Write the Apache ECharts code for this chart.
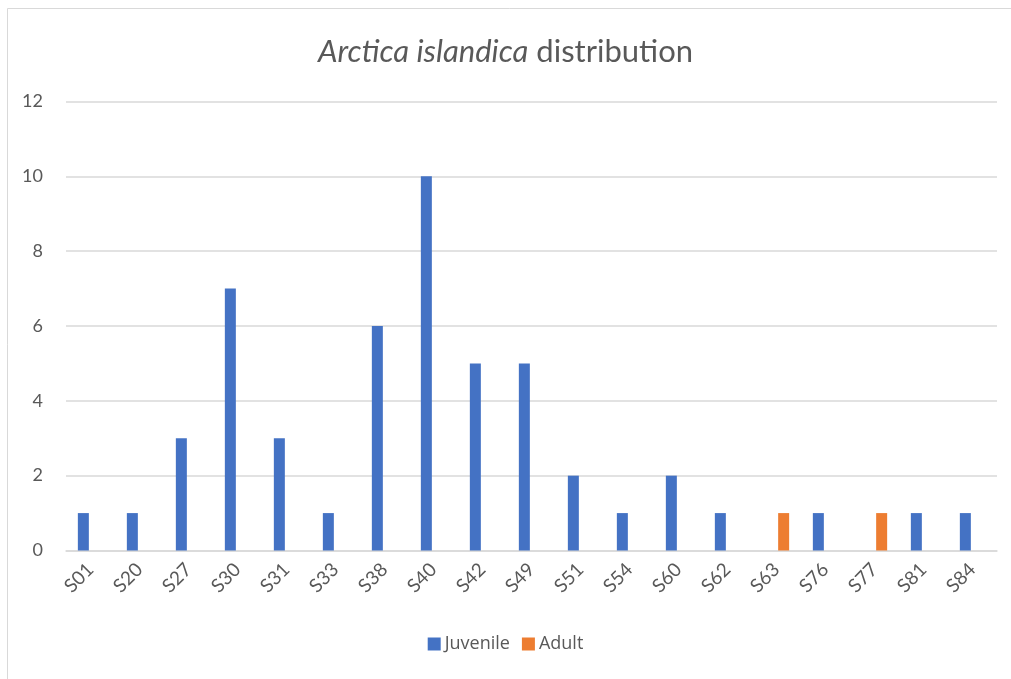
<!DOCTYPE html>
<html>
<head>
<meta charset="utf-8">
<script src="https://cdn.jsdelivr.net/npm/echarts@6/dist/echarts.min.js"></script>
<style>
  html, body { margin: 0; padding: 0; background: #ffffff; }
  #chart { width: 1011px; height: 679px; }
</style>
</head>
<body>
<div id="chart"></div>
<script>
// Sampling stations
const stations = ['S01', 'S20', 'S27', 'S30', 'S31', 'S33', 'S38', 'S40', 'S42', 'S49',
                  'S51', 'S54', 'S60', 'S62', 'S63', 'S76', 'S77', 'S81', 'S84'];
// Counts per station
const juvenile = [1, 1, 3, 7, 3, 1, 6, 10, 5, 5, 2, 1, 2, 1, 0, 1, 0, 1, 1];
const adult    = [0, 0, 0, 0, 0, 0, 0, 0, 0, 0, 0, 0, 0, 0, 1, 0, 1, 0, 0];
// Value axis ticks
const yTicks = [0, 2, 4, 6, 8, 10, 12];

const textColor = '#595959';
const gridColor = '#d9d9d9';
const fontFamily = 'Lato, "Open Sans", sans-serif';

const chart = echarts.init(document.getElementById('chart'), null, { renderer: 'canvas' });

chart.setOption({
  backgroundColor: '#ffffff',
  animation: false,
  graphic: [{
    type: 'rect',
    silent: true,
    shape: { x: 7.5, y: 8.5, width: 1100, height: 800 },
    style: { fill: 'none', stroke: gridColor, lineWidth: 1 }
  }],
  title: {
    text: '{i|Arctica islandica}{n| distribution}',
    left: 'center',
    top: 31,
    textStyle: {
      rich: {
        i: { fontFamily: fontFamily, fontSize: 31, fontStyle: 'italic', fontWeight: 'normal', color: textColor },
        n: { fontFamily: fontFamily, fontSize: 31, fontWeight: 'normal', color: textColor }
      }
    }
  },
  legend: {
    bottom: 21,
    left: 'center',
    itemWidth: 13,
    itemHeight: 13,
    itemGap: 12,
    icon: 'rect',
    textStyle: { color: textColor, fontSize: 18, fontFamily: '"Open Sans", sans-serif', padding: [0, 0, 0, -1] },
    data: ['Juvenile', 'Adult']
  },
  grid: { left: 66, right: 14, top: 101.5, bottom: 128.5 },
  xAxis: {
    type: 'category',
    data: stations,
    axisLine: { lineStyle: { color: gridColor, width: 1.5 } },
    axisTick: { show: false },
    axisLabel: {
      rotate: 45,
      margin: 16,
      color: textColor,
      fontSize: 19,
      fontFamily: fontFamily,
      interval: 0
    }
  },
  yAxis: {
    type: 'value',
    min: yTicks[0],
    max: yTicks[yTicks.length - 1],
    interval: yTicks[1] - yTicks[0],
    axisLine: { show: false },
    axisTick: { show: false },
    splitLine: { lineStyle: { color: gridColor, width: 1.5 } },
    axisLabel: { color: textColor, fontSize: 18, fontFamily: fontFamily, margin: 23 }
  },
  series: [
    {
      name: 'Juvenile',
      type: 'bar',
      data: juvenile,
      barWidth: 11,
      barGap: '30%',
      itemStyle: { color: '#4472C4' }
    },
    {
      name: 'Adult',
      type: 'bar',
      data: adult,
      barWidth: 11,
      itemStyle: { color: '#ED7D31' }
    }
  ]
});
</script>
</body>
</html>
